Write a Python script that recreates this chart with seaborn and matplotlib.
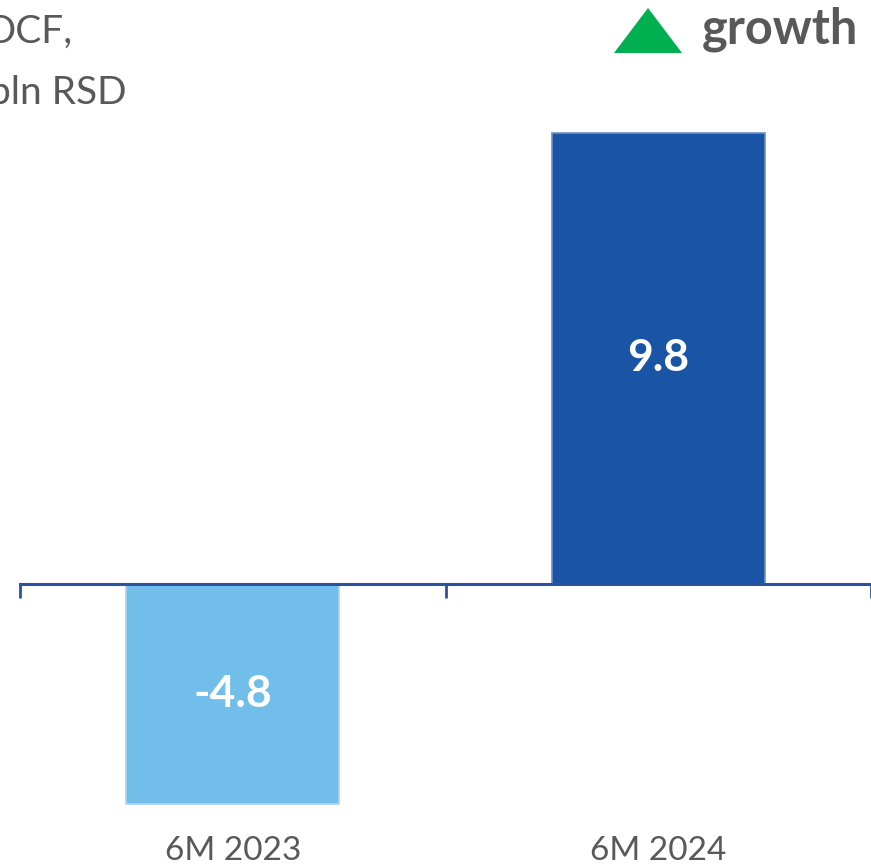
import matplotlib
matplotlib.use("Agg")
import matplotlib.pyplot as plt
import seaborn as sns
from matplotlib.patches import Polygon

# data
periods = ["6M 2023", "6M 2024"]
ocf = [-4.8, 9.8]
bar_colors = ["#71BEEA", "#1A54A4"]
edge_colors = ["#A9D6F2", "#6F8FC8"]

sns.set_style("white")
plt.rcParams['font.family'] = ['Lato', 'DejaVu Sans']

W, H = 871, 867
fig = plt.figure(figsize=(W / 100, H / 100), dpi=100)
ax = fig.add_axes([20 / W, 0, (W - 20) / W, 1])

sns.barplot(x=periods, y=ocf, hue=periods, palette=bar_colors, width=0.5,
            legend=False, ax=ax, saturation=1)
for bar, ec in zip(ax.patches, edge_colors):
    bar.set_edgecolor(ec)
    bar.set_linewidth(1.2)

ax.set_xlim(-0.5, 1.5)
ax.set_ylim(-6.16, 12.68)

# category axis sits on zero
for side in ["top", "right", "left"]:
    ax.spines[side].set_visible(False)
ax.spines["bottom"].set_position(("data", 0))
ax.spines["bottom"].set_color("#2B52A0")
ax.spines["bottom"].set_linewidth(2.2)
ax.set_yticks([])
ax.set_xticks([-0.5, 0.5, 1.5])
ax.set_xticklabels([])
ax.tick_params(axis="x", bottom=True, direction="out", length=10, width=2,
               color="#2B52A0")
ax.set_xlabel("")

# value labels inside bars
for i, v in enumerate(ocf):
    ax.text(i, v / 2, f"{v:.1f}", ha="center", va="center", color="white",
            fontsize=32, fontweight="bold")

# category labels below
for i, p in enumerate(periods):
    ax.text(i, -5.82, p, ha="center", va="center", color="#595959", fontsize=24)

# title, cropped at the left edge like the source slide
fig.text(72 / W, 1 - 43 / H, "OCF,", ha="right", va="baseline",
         color="#595959", fontsize=28)
fig.text(127 / W, 1 - 104 / H, "bln RSD", ha="right", va="baseline",
         color="#595959", fontsize=28)

# growth marker
tri = Polygon([(614 / W, 1 - 53 / H), (682 / W, 1 - 53 / H), (648 / W, 1 - 8 / H)],
              closed=True, facecolor="#00B050", edgecolor="none",
              transform=fig.transFigure)
fig.add_artist(tri)
fig.text(858 / W, 1 - 44 / H, "growth", ha="right", va="baseline",
         color="#595959", fontsize=35, fontweight="bold")

fig.savefig("out.png", dpi=100)
